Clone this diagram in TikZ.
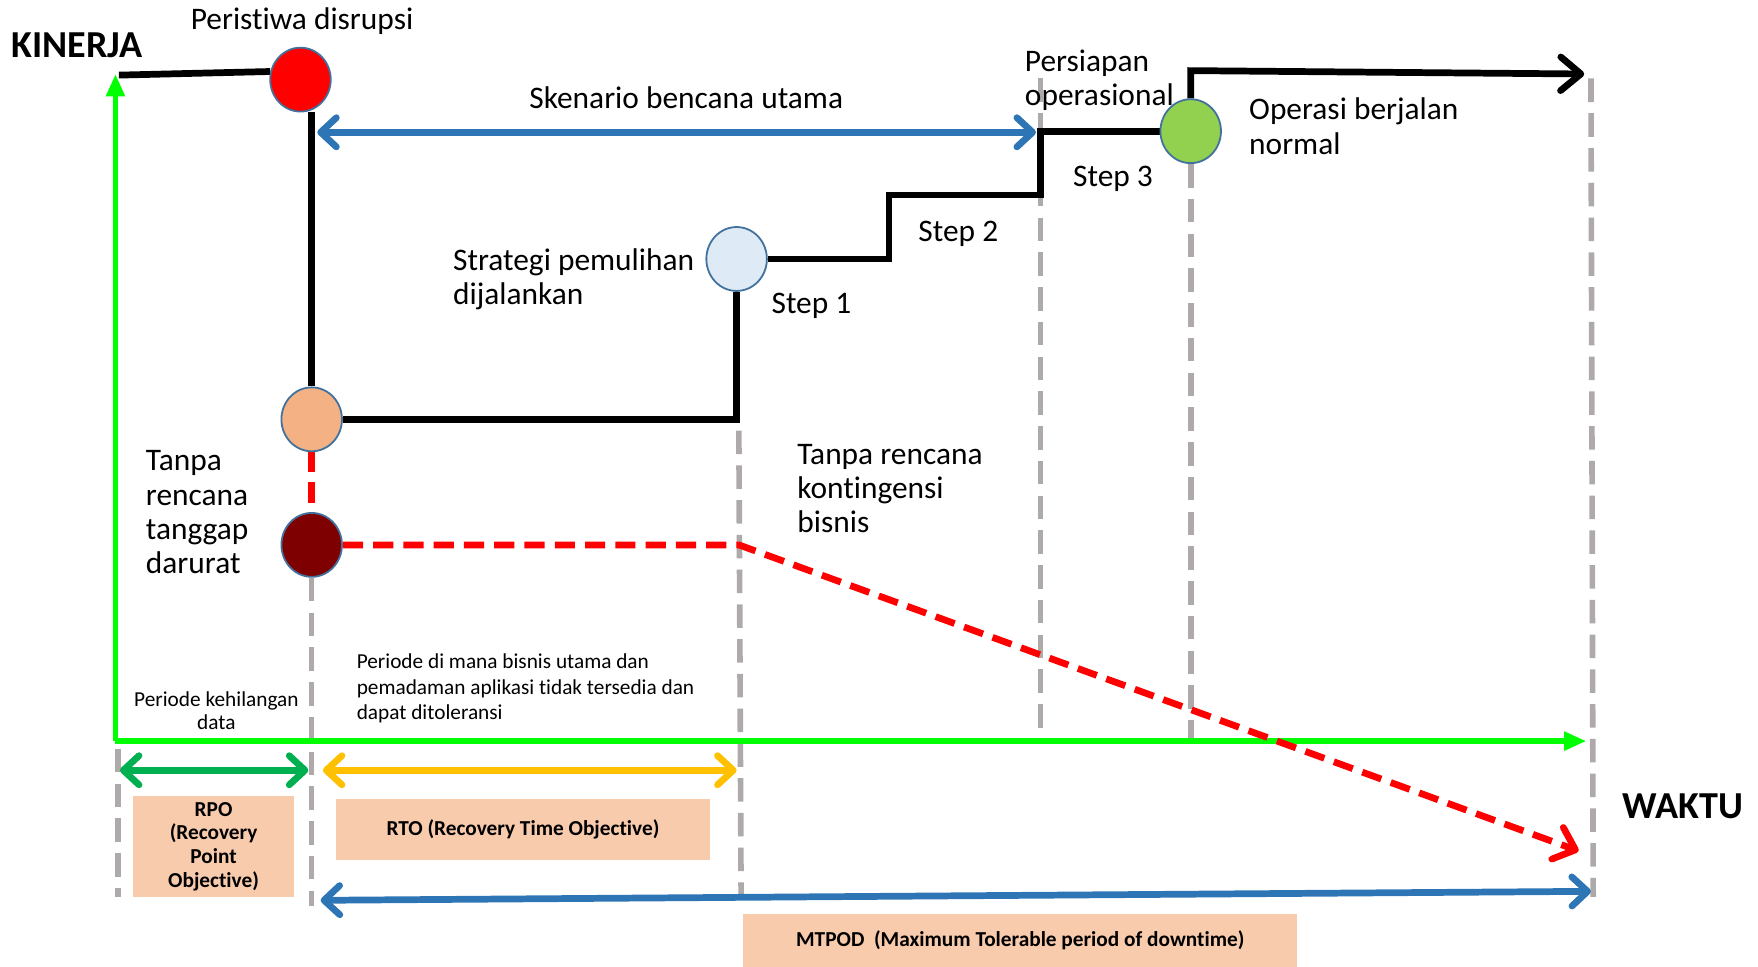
\documentclass[tikz,border=0pt]{standalone}
\usepackage{fontspec}
\setmainfont{Carlito}[RawFeature={-liga;-clig;-calt;-dlig}]
\usetikzlibrary{arrows.meta,shapes.geometric,backgrounds}

\definecolor{axisgreen}{HTML}{00FF00}
\definecolor{rpogreen}{HTML}{00B050}
\definecolor{rtoyellow}{HTML}{FFC000}
\definecolor{arrowblue}{HTML}{2E75B6}
\definecolor{boxpeach}{HTML}{F8CBAD}
\definecolor{guidegray}{HTML}{AEAAAA}
\definecolor{rimblue}{HTML}{41719C}
\definecolor{fillorange}{HTML}{F4B183}
\definecolor{fillmaroon}{HTML}{7F0000}
\definecolor{fillpale}{HTML}{DEEBF7}
\definecolor{fillgreen}{HTML}{92D050}

\tikzset{
  event/.style={ellipse, draw=rimblue, line width=1.6pt, minimum width=54pt,
    minimum height=57pt, inner sep=0pt},
  % multi-line labels are anchored at the baseline of their last line
  lbl/.style={font=\fontsize{28}{30.5}\selectfont, inner sep=0pt,
    anchor=base west, align=left},
  smalllbl/.style={font=\fontsize{19}{23}\selectfont, inner sep=0pt,
    anchor=base west, align=left},
  axislbl/.style={font=\bfseries\fontsize{34}{40}\selectfont, inner sep=0pt,
    anchor=base west},
  peachbox/.style={fill=boxpeach, draw=none, inner sep=0pt, align=center,
    font=\bfseries\fontsize{19}{21}\selectfont},
  path/.style={line width=6pt, black},
  axis/.style={line width=5pt, axisgreen, -{Triangle[length=20pt,width=16pt]}},
  guide/.style={line width=5pt, guidegray, dash pattern=on 21pt off 10pt},
  nofail/.style={line width=6pt, red, dash pattern=on 18pt off 9pt},
  barb/.tip={Straight Barb[length=14pt,width=26pt,round]},
  span/.style={line width=6pt, barb-barb},
}

\begin{document}
\begin{tikzpicture}[x=1pt,y=-1pt]
\useasboundingbox (0,0) rectangle (1568,862);

% event markers
\node[event, fill=red]        (dis)   at (268,71)   {};
\node[event, fill=fillorange] (orng)  at (278,374)  {};
\node[event, fill=fillmaroon] (dark)  at (278,486)  {};
\node[event, fill=fillpale]   (strat) at (657,231)  {};
\node[event, fill=fillgreen]  (norm)  at (1062,117) {};

% corner and end points
\coordinate (kstart) at (106,67);
\coordinate (c1) at (793,174);
\coordinate (c2) at (928,117);
\coordinate (n1) at (1062,63);
\coordinate (topend) at (1413,66);
\coordinate (r1) at (659,486);
\coordinate (redtip) at (1408,759);
\coordinate (org) at (103,661);
\coordinate (ytip) at (103,66);
\coordinate (xtip) at (1415,661);
\coordinate (sk1) at (283,118);
\coordinate (sk2) at (924,118);
\coordinate (mt1) at (286,803);
\coordinate (mt2) at (1419,795);
\coordinate (rpo1) at (107,687);
\coordinate (rpo2) at (275,687);
\coordinate (rto1) at (288,687);
\coordinate (rto2) at (657,687);
\coordinate (g1a) at (105,668);  \coordinate (g1b) at (105,800);
\coordinate (g2b) at (278,808);
\coordinate (g3a) at (659,384);  \coordinate (g3b) at (661,800);
\coordinate (g4a) at (928,70);   \coordinate (g4b) at (928,661);
\coordinate (g5b) at (1062,661);
\coordinate (g6a) at (1419,70);  \coordinate (g6b) at (1421,800);

\begin{scope}[on background layer]
  % vertical guides
  \draw[guide] (g1a) -- (g1b);
  \draw[guide] (dark.south) -- (g2b);
  \draw[guide] (g3a) -- (g3b);
  \draw[guide] (g4a) -- (g4b);
  \draw[guide] (norm.south) -- (g5b);
  \draw[guide] (g6a) -- (g6b);

  % axes
  \draw[axis] (org) -- (ytip);
  \draw[axis] (org) -- (xtip);

  % recovery path
  \draw[path] (kstart) -- (dis.165);
  \draw[path] (orng.north |- dis.south) -- (orng.north);
  \draw[path] (orng.east) -| (strat.south);
  \draw[path] (strat.east) -| (c1) -| (c2) -- (norm.west);
  \draw[path, -{Straight Barb[length=18pt,width=30pt,round]}]
    (norm.north) -- (n1) -- (topend);

  % path without plans
  \draw[nofail] (orng.south) -- (dark.north);
  \draw[nofail, -{Straight Barb[length=17pt,width=30pt,round]}]
    (dark.east) -- (r1) -- (redtip);

  % spans
  \draw[span, arrowblue] (sk1) -- (sk2);
  \draw[span, arrowblue] (mt1) -- (mt2);
  \draw[span, rpogreen] (rpo1) -- (rpo2);
  \draw[span, rtoyellow] (rto1) -- (rto2);
\end{scope}

% labels
\node[axislbl] (kin) at (10,51) {KINERJA};
\node[axislbl] (wak) at (1447,730) {WAKTU};
\node[lbl] (tdis) at (170,26) {Peristiwa disrupsi};
\node[lbl] (tsk) at (472,97) {Skenario bencana utama};
\node[lbl] (tpers) at (914,94.5) {Persiapan\\operasional};
\node[lbl] (tnorm) at (1114,137.5) {Operasi berjalan\\normal};
\node[lbl] (ts3) at (957,166) {Step 3};
\node[lbl] (ts2) at (819,215) {Step 2};
\node[lbl] (ts1) at (688,280) {Step 1};
\node[lbl] (tstrat) at (404,271.5) {Strategi pemulihan\\dijalankan};
\node[lbl] (ttanggap) at (130,511.5) {Tanpa\\rencana\\tanggap\\darurat};
\node[lbl] (tkont) at (711,475) {Tanpa rencana\\kontingensi\\bisnis};
\node[smalllbl] (tper) at (318,642)
  {Periode di mana bisnis utama dan\\pemadaman aplikasi tidak tersedia dan\\dapat ditoleransi};
\node[smalllbl, font=\fontsize{19}{21}\selectfont, anchor=base, align=center]
  (tdata) at (193,651) {Periode kehilangan\\data};

% objective boxes
\node[peachbox, minimum width=143pt, minimum height=90pt] (rpo) at (190.5,755)
  {RPO\\(Recovery\\Point\\Objective)};
\node[peachbox, minimum width=333pt, minimum height=54pt] (rto) at (466.5,740)
  {RTO (Recovery Time Objective)};
\node[peachbox, minimum width=494pt, minimum height=48pt] (mtpod) at (910,839)
  {MTPOD\ \ (Maximum Tolerable period of downtime)};
\end{tikzpicture}
\end{document}
